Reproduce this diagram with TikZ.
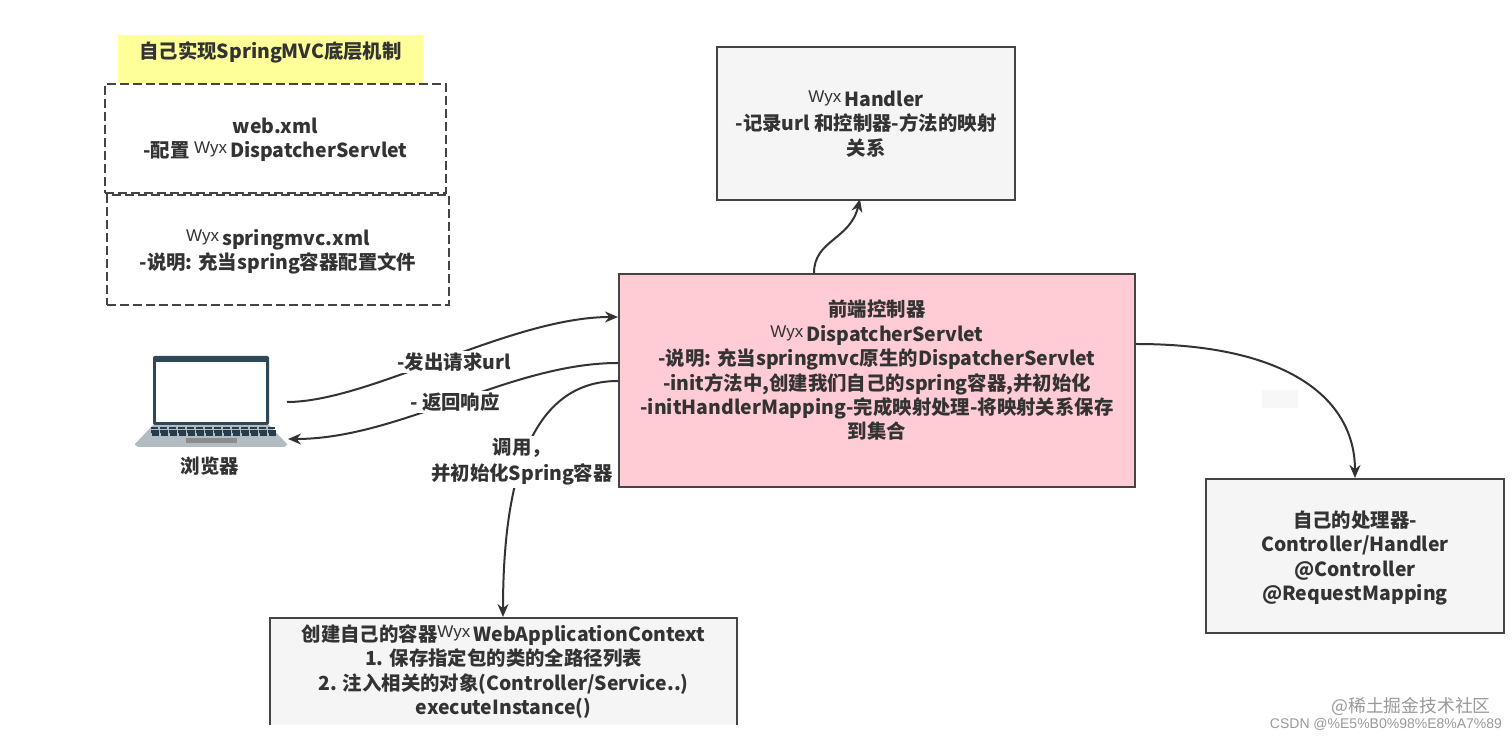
\documentclass[tikz,border=0pt]{standalone}
\usepackage{fontspec}
\setmainfont{Noto Sans CJK SC}
\newfontfamily\wyxfont{Liberation Sans}
\usetikzlibrary{arrows.meta}
\definecolor{inkc}{HTML}{333333}
\definecolor{edgec}{HTML}{444444}
\definecolor{greyc}{HTML}{F5F5F5}
\definecolor{pinkc}{HTML}{FFCCD5}
\definecolor{yellowc}{HTML}{FFFF99}
\definecolor{screenc}{HTML}{2F4858}
\definecolor{basec}{HTML}{B2BDC3}
\newcommand{\wyx}{{\wyxfont\mdseries\fontsize{8.5}{10}\selectfont\raisebox{2pt}{Wyx}}\hspace{1.5pt}}
\tikzset{
  every node/.style = {font=\fontsize{9.7}{12.2}\selectfont\bfseries, text=inkc, align=center, inner sep=0pt},
  solidbox/.style = {draw=edgec, line width=1pt, fill=greyc, text depth=0.5pt},
  dashbox/.style = {draw=edgec, line width=1pt, dash pattern=on 4.5pt off 2pt, text depth=0.5pt},
  conn/.style = {draw=inkc, line width=1pt, -{Stealth[length=6.5pt, width=5.5pt]}},
  lbl/.style = {fill=white, inner xsep=1.5pt, inner ysep=1pt},
  stamp/.style = {text=black!40}
}
\begin{document}
\begin{tikzpicture}[x=0.5pt, y=-0.5pt]
  \useasboundingbox [fill=white] (0, 0) rectangle (1512, 737);

  \node (title) [fill=yellowc, minimum width=152.5pt, minimum height=24pt, text depth=9pt] at (270.5, 59) {自己实现SpringMVC底层机制};
  \node (webxml) [dashbox, minimum width=170.5pt, minimum height=54.5pt] at (275.5, 138.5) {web.xml\\-配置 \wyx DispatcherServlet};
  \node (mvcxml) [dashbox, minimum width=171pt, minimum height=55pt] at (278, 250) {\wyx springmvc.xml\\-说明: 充当spring容器配置文件};
  \node (handler) [solidbox, minimum width=149pt, minimum height=76.5pt] at (866, 123.5) {\wyx Handler\\-记录url 和控制器-方法的映射\\关系};
  \node (front) [solidbox, fill=pinkc, minimum width=258pt, minimum height=106.5pt, text depth=11pt] at (877, 380.5) {前端控制器\\\wyx DispatcherServlet\\-说明: 充当springmvc原生的DispatcherServlet\\-init方法中,创建我们自己的spring容器,并初始化\\-initHandlerMapping-完成映射处理-将映射关系保存\\到集合};
  \node (ctrl) [solidbox, minimum width=149pt, minimum height=77pt] at (1355, 556) {自己的处理器-\\Controller/Handler\\@Controller\\@RequestMapping};
  \node (ctx) [fill=greyc, minimum width=233.5pt, minimum height=53.5pt] at (503.5, 671.5) {创建自己的容器\wyx WebApplicationContext\\1. 保存指定包的类的全路径列表\\2. 注入相关的对象(Controller/Service..)\\executeInstance()};
  \draw [edgec, line width=1pt] (ctx.south west) -- (ctx.north west) -- (ctx.north east) -- (ctx.south east);

  % laptop
  \fill [basec] (153, 425) -- (269, 425) -- (287, 444) -- (287, 445) -- (284, 447) -- (138, 447) -- (135, 445) -- (135, 444) -- cycle;
  \fill [screenc, rounded corners=1pt] (153, 356) rectangle (269, 425);
  \fill [white] (156, 362) rectangle (266, 422);
  \foreach \n in {0, 1, 2} {
    \foreach \k in {0, ..., 13} {
      \fill [screenc!85!black] (150.5 + \k * 9 + \n * 0.5, 427 + \n * 3.2) rectangle ++(7.6, 2.4);
    }
  }
  \fill [black!45] (186, 438) rectangle (237, 443);
  \node (browser) at (210, 466) {浏览器};

  \coordinate (lapout) at (287, 402);
  \coordinate (lapin) at (288, 439);
  \coordinate (frontin) at (618, 317);
  \coordinate (frontout) at (618, 363);
  \coordinate (frontcall) at (618, 381);
  \coordinate (fronttop) at (814, 273);
  \coordinate (frontright) at (1136, 344);
  \coordinate (ctxin) at (503, 617);
  \coordinate (handin) at (860, 199);
  \coordinate (ctrlin) at (1355, 478);

  \draw [conn] (lapout) .. controls (370, 402) and (510, 317) .. (frontin);
  \draw [conn] (frontout) .. controls (510, 363) and (400, 439) .. (lapin);
  \draw [conn] (frontcall) .. controls (530, 381) and (503, 480) .. (ctxin);
  \draw [conn] (fronttop) .. controls (814, 240) and (850, 240) .. (handin);
  \draw [conn] (frontright) .. controls (1290, 344) and (1355, 400) .. (ctrlin);

  \node (send) [lbl] at (454, 362) {-发出请求url};
  \node (back) [lbl] at (455, 402) {- 返回响应};
  \node (call) [lbl] at (522, 462) {调用，\\[0.8pt]并初始化Spring容器};

  \fill [black!3] (1262, 390) rectangle (1298, 408);
  \node (markone) [stamp, font=\fontsize{8.9}{10}\selectfont\mdseries] at (1411, 706) {@稀土掘金技术社区};
  \node (marktwo) [stamp, font=\fontsize{7}{9}\selectfont\wyxfont\mdseries] at (1386, 724) {CSDN @\%E5\%B0\%98\%E8\%A7\%89};
\end{tikzpicture}
\end{document}
